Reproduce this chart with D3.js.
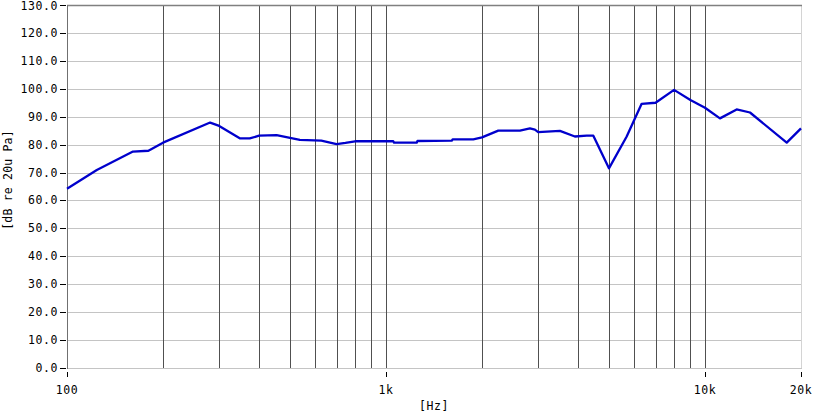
<!DOCTYPE html>
<html><head><meta charset="utf-8">
<script src="https://cdn.jsdelivr.net/npm/d3@7"></script>
<style>body{margin:0;background:#fff}text{font-family:"DejaVu Sans Mono","Liberation Mono",monospace;fill:#000}</style>
</head><body><svg id="c" width="813" height="418"></svg>
<script>
const freqs = [100,124,161,180,200,281,300,349,374,400,454,537,627,700,746,800,1054,1060,1248,1255,1607,1620,1878,2000,2249,2630,2827,2930,3000,3510,3910,4259,4467,5000,5683,6331,7000,8000,9000,10000,11143,12570,13840,18040,20000];
const spl   = [64.2,70.9,77.5,77.8,80.7,87.9,86.7,82.2,82.2,83.2,83.4,81.7,81.4,80.2,80.6,81.2,81.2,80.7,80.7,81.3,81.4,81.9,81.9,82.6,85.0,85.0,85.8,85.4,84.5,84.9,82.9,83.2,83.2,71.5,82.9,94.6,95.0,99.6,96.0,93.2,89.4,92.6,91.5,80.7,85.8];
const yTicks = d3.range(0,131,10);
const xGrid = [200,300,400,500,600,700,800,900,1000,2000,3000,4000,5000,6000,7000,8000,9000,10000];
const xTicks = [100,1000,10000,20000];
const xTickLabels = ["100","1k","10k","20k"];

const svg = d3.select("#c");
const L=67,R=801,T=5,B=368;
const x = d3.scaleLog().domain([100,20000]).range([L,R]);
const y = d3.scaleLinear().domain([0,130]).range([B,T]);

// horizontal grid
svg.append("g").selectAll("line").data(yTicks.filter(d=>d>0&&d<130)).join("line")
  .attr("x1",L).attr("x2",R).attr("y1",d=>Math.round(y(d))+0.5).attr("y2",d=>Math.round(y(d))+0.5)
  .attr("stroke","#c4c4c4").attr("stroke-width",1);
// vertical grid
svg.append("g").selectAll("line").data(xGrid).join("line")
  .attr("x1",d=>Math.round(x(d))+0.5).attr("x2",d=>Math.round(x(d))+0.5).attr("y1",T).attr("y2",B)
  .attr("stroke","#505050").attr("stroke-width",1);
// frame
svg.append("line").attr("x1",R+0.5).attr("x2",R+0.5).attr("y1",T).attr("y2",B).attr("stroke","#d4d4d4");
svg.append("line").attr("x1",L).attr("x2",R+1).attr("y1",T+0.5).attr("y2",T+0.5).attr("stroke","#808080").attr("stroke-width",1.5);
svg.append("line").attr("x1",L).attr("x2",R+1).attr("y1",B+0.5).attr("y2",B+0.5).attr("stroke","#c4c4c4");
svg.append("line").attr("x1",L+0.5).attr("x2",L+0.5).attr("y1",T).attr("y2",B+1).attr("stroke","#707070");

// y axis ticks
const ya = svg.append("g");
ya.selectAll("line").data(yTicks).join("line")
  .attr("x1",60).attr("x2",66).attr("y1",d=>Math.round(y(d))+0.5).attr("y2",d=>Math.round(y(d))+0.5).attr("stroke","#000");
ya.selectAll("text").data(yTicks).join("text")
  .attr("x",58).attr("y",d=>Math.max(y(d)+4,10)).attr("text-anchor","end").attr("font-size","11.5px").attr("letter-spacing","0.6px")
  .text(d=>d.toFixed(1));
// x axis ticks
const xa = svg.append("g");
xa.selectAll("line").data(xTicks).join("line")
  .attr("x1",d=>Math.round(x(d))+0.5).attr("x2",d=>Math.round(x(d))+0.5).attr("y1",372).attr("y2",377).attr("stroke","#000");
xa.selectAll("text").data(xTicks).join("text")
  .attr("x",d=>x(d)).attr("y",394).attr("text-anchor","middle").attr("font-size","11.5px").attr("letter-spacing","0.6px")
  .text((d,i)=>xTickLabels[i]);
svg.append("text").attr("x",434).attr("y",410).attr("text-anchor","middle").attr("font-size","11.5px").attr("letter-spacing","0.6px").text("[Hz]");
svg.append("text").attr("transform","translate(12,180) rotate(-90)").attr("text-anchor","middle").attr("font-size","11.5px").attr("letter-spacing","0.2px").text("[dB re 20u Pa]");

// curve
const line = d3.line().x((d,i)=>x(freqs[i])).y(d=>y(d));
svg.append("path").datum(spl).attr("d",line).attr("fill","none").attr("stroke","#0000cc").attr("stroke-width",2.3).attr("stroke-linejoin","round");
</script></body></html>
